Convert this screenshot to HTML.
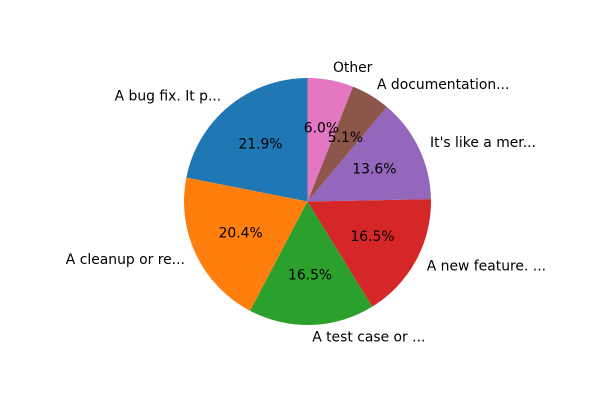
<!DOCTYPE html>
<html>
<head>
<meta charset="utf-8">
<style>
html,body{margin:0;padding:0;background:#fff;}
svg text{font-family:"DejaVu Sans","Liberation Sans",sans-serif;font-size:13.9px;fill:#000;}
</style>
</head>
<body>
<svg id="chart" width="600" height="400" viewBox="0 0 600 400" xmlns="http://www.w3.org/2000/svg">
<g id="slices"></g>
<g id="labels"></g>
</svg>
<script>
const categories = ["A bug fix. It p...", "A cleanup or re...", "A test case or ...", "A new feature. ...", "It's like a mer...", "A documentation...", "Other"];
const values = [21.9, 20.4, 16.5, 16.5, 13.6, 5.1, 6.0];
const pctLabels = ["21.9%", "20.4%", "16.5%", "16.5%", "13.6%", "5.1%", "6.0%"];
const colors = ["#1f77b4", "#ff7f0e", "#2ca02c", "#d62728", "#9467bd", "#8c564b", "#e377c2"];

const cx = 307.5, cy = 201.5, r = 123.5;
const NS = "http://www.w3.org/2000/svg";
const total = values.reduce((a, b) => a + b, 0);
const sg = document.getElementById('slices');
const lg = document.getElementById('labels');
function pt(deg, rr) {
  const a = deg * Math.PI / 180;
  return [cx + rr * Math.cos(a), cy - rr * Math.sin(a)];
}
let start = 90;
values.forEach((v, i) => {
  const sweep = v / total * 360;
  const end = start + sweep;
  const [x1, y1] = pt(start, r);
  const [x2, y2] = pt(end, r);
  const large = sweep > 180 ? 1 : 0;
  const p = document.createElementNS(NS, 'path');
  p.setAttribute('d', `M${cx},${cy} L${x1},${y1} A${r},${r} 0 ${large} 0 ${x2},${y2} Z`);
  p.setAttribute('fill', colors[i]);
  
  
  sg.appendChild(p);
  const mid = start + sweep / 2;
  const [lx, ly] = pt(mid, r * 1.1);
  const t = document.createElementNS(NS, 'text');
  t.setAttribute('x', lx);
  t.setAttribute('y', ly);
  t.setAttribute('dominant-baseline', 'central');
  t.setAttribute('text-anchor', Math.cos(mid * Math.PI / 180) < 0 ? 'end' : 'start');
  t.textContent = categories[i];
  
  
  lg.appendChild(t);
  const [px, py] = pt(mid, r * 0.6);
  const tp = document.createElementNS(NS, 'text');
  tp.setAttribute('x', px);
  tp.setAttribute('y', py);
  tp.setAttribute('dominant-baseline', 'central');
  tp.setAttribute('text-anchor', 'middle');
  tp.textContent = pctLabels[i];
  
  
  lg.appendChild(tp);
  start = end;
});
</script>
</body>
</html>
